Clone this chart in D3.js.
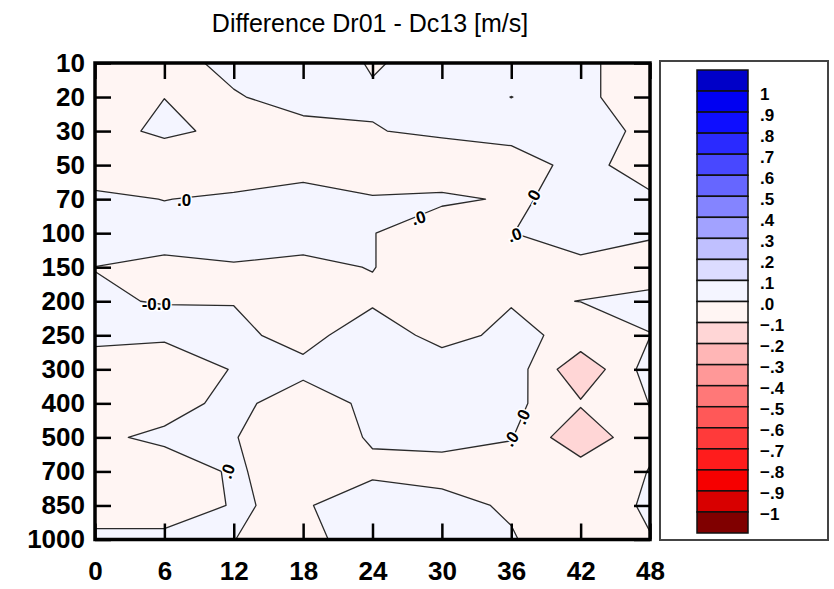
<!DOCTYPE html>
<html><head><meta charset="utf-8">
<title>Difference Dr01 - Dc13</title>
<script src="https://cdn.jsdelivr.net/npm/d3@7"></script>
<style>
  body { margin: 0; background: #ffffff; }
  text { font-family: 'Liberation Sans', Arial, sans-serif; fill: #000; }
  .domain { display: none; }
  .tick line { stroke: #000; stroke-width: 2.5px; }
  .axis text { font-size: 26px; font-weight: bold; }
  .title { font-size: 25px; }
  .barlabel { font-size: 17px; font-weight: bold; }
  .clabel { font-size: 17px; font-weight: bold; stroke: #fff; stroke-width: 3px; paint-order: stroke; }
</style>
</head>
<body>
<svg id="chart" width="834" height="589"></svg>
<script>

// forecast hours (columns) and pressure levels (rows, top to bottom)
const hours = [0, 6, 12, 18, 24, 30, 36, 42, 48];
const levels = [10, 20, 30, 50, 70, 100, 150, 200, 250, 300, 400, 500, 700, 850, 1000];

// difference Dr01 - Dc13 [m/s], one row per level, one value per hour
const diff = [
  [-0.04,  -0.02,   0.0145,  0.035,  -0.005,   0.02,    0.03,    0.02,   -0.049],
  [-0.04,  -0.001, -0.0044,  0.02,    0.0072,  0.025,  -0.0005,  0.02,   -0.049],
  [-0.037,  0.019, -0.023,  -0.0164, -0.0027,  0.01,    0.02,    0.02,   -0.0108],
  [-0.03,  -0.07,  -0.03,   -0.02,   -0.03,   -0.04,   -0.0265,  0.0177, -0.0255],
  [ 0.0105,-0.001,  0.0075,  0.0192,  0.0037,  0.01,   -0.0059,  0.012,   0.009],
  [ 0.02,   0.02,   0.02,    0.02,    0.002,  -0.038,  -0.001,   0.024,   0.01],
  [-0.0003,-0.0113,-0.0035, -0.0113,  0.002,  -0.038,  -0.03,   -0.0135, -0.04],
  [ 0.0021,-0.0011,-0.003,  -0.02,   -0.012,  -0.03,   -0.0054,  0.0005,  0.0206],
  [ 0.02,   0.01,   0.02,   -0.03,    0.05,   -0.0305,  0.023,  -0.026,  -0.002],
  [-0.04,  -0.04,   0.0035,  0.0236,  0.04,    0.054,   0.057,  -0.18,    0.045],
  [-0.04,  -0.0345, 0.025,  -0.05,    0.0225,  0.04,    0.028,  -0.089,   0.002],
  [-0.0157, 0.017,  0.002,  -0.03,    0.005,   0.02,    0.005,  -0.18,   -0.01],
  [-0.04,  -0.0456, 0.01,   -0.04,   -0.01,   -0.0265, -0.045,  -0.042,   0.002],
  [-0.02,  -0.02,   0.0025, -0.0053,  0.03,    0.025,  -0.0107, -0.04,    0.01],
  [ 0.0094, 0.0094, 0.0005, -0.017,   0.03,    0.003,   0.0074, -0.067,  -0.003]
];

// contour levels and shading, lowest band (< -1) first
const thresholds = d3.range(-10, 11).map(d => d / 10);
const bandColors = ["#800000", "#d80000", "#f60000", "#ff1c1c", "#ff3a3a", "#ff5858",
                    "#ff7878", "#ff9898", "#ffb6b6", "#ffd6d6", "#fff5f3", "#f4f5ff",
                    "#dcdcff", "#c0c0ff", "#a2a2ff", "#8484ff", "#6666ff", "#4848ff",
                    "#2a2aff", "#0e0eff", "#0000f2", "#0000c8"];
const barLabels = ["1", ".9", ".8", ".7", ".6", ".5", ".4", ".3", ".2", ".1", ".0",
                   "\u2212.1", "\u2212.2", "\u2212.3", "\u2212.4", "\u2212.5", "\u2212.6",
                   "\u2212.7", "\u2212.8", "\u2212.9", "\u22121"];

// contour labels: hour, level index, text, angle
const lineLabels = [
  {h: 7.7,  r: 4.03,  t: ".0",   a: 0},
  {h: 28.0, r: 4.56,  t: ".0",   a: -17},
  {h: 37.9, r: 3.95,  t: ".0",   a: -62},
  {h: 36.3, r: 5.06,  t: ".0",   a: -20},
  {h: 5.3,  r: 7.1,   t: "-0.0", a: 0},
  {h: 11.5, r: 12.0,  t: ".0",   a: -70},
  {h: 37.0, r: 10.4,  t: ".0",   a: -64},
  {h: 36.0, r: 11.05, t: ".0",   a: -55}
];

const svg = d3.select("#chart");
const plot = {left: 95, right: 650, top: 63, bottom: 539.5};

const x = d3.scaleLinear().domain([0, 48]).range([plot.left, plot.right]);
const y = d3.scaleLinear().domain([0, levels.length - 1]).range([plot.top, plot.bottom]);

svg.append("text")
  .attr("class", "title")
  .attr("x", 370)
  .attr("y", 32)
  .attr("text-anchor", "middle")
  .text("Difference Dr01 - Dc13 [m/s]");

svg.append("clipPath").attr("id", "plotclip")
  .append("rect")
  .attr("x", plot.left).attr("y", plot.top)
  .attr("width", plot.right - plot.left).attr("height", plot.bottom - plot.top);

// contours on the hour x level grid
const nx = hours.length, ny = levels.length;
const values = diff.flat();
const contours = d3.contours().size([nx, ny]).thresholds(thresholds)(values);

const step = hours[1] - hours[0];
const gridToPixel = d3.geoTransform({
  point: function(gx, gy) {
    this.stream.point(x(hours[0] + (gx - 0.5) * step), y(gy - 0.5));
  }
});
const path = d3.geoPath(gridToPixel);

const field = svg.append("g").attr("clip-path", "url(#plotclip)");
field.append("rect")
  .attr("x", plot.left).attr("y", plot.top)
  .attr("width", plot.right - plot.left).attr("height", plot.bottom - plot.top)
  .attr("fill", bandColors[0]);

field.selectAll("path.band").data(contours)
  .join("path")
  .attr("class", "band")
  .attr("d", path)
  .attr("fill", (d, i) => bandColors[i + 1])
  .attr("stroke", "#2a2a2a")
  .attr("stroke-width", 1.3)
  .attr("stroke-linejoin", "round");

field.selectAll("text.clabel").data(lineLabels)
  .join("text")
  .attr("class", "clabel")
  .attr("text-anchor", "middle")
  .attr("dominant-baseline", "central")
  .attr("transform", d => `translate(${x(d.h)},${y(d.r)}) rotate(${d.a})`)
  .text(d => d.t);

// axes with inward ticks on all four sides
const rows = d3.range(levels.length);
svg.append("g").attr("class", "axis")
  .attr("transform", `translate(0,${plot.bottom})`)
  .call(d3.axisBottom(x).tickValues(hours).tickSizeInner(-16).tickSizeOuter(0).tickPadding(22));
svg.append("g").attr("class", "axis")
  .attr("transform", `translate(0,${plot.top})`)
  .call(d3.axisTop(x).tickValues(hours).tickSizeInner(-16).tickSizeOuter(0).tickFormat(""));
svg.append("g").attr("class", "axis")
  .attr("transform", `translate(${plot.left},0)`)
  .call(d3.axisLeft(y).tickValues(rows).tickSizeInner(-16).tickSizeOuter(0).tickPadding(10)
        .tickFormat(i => levels[i]));
svg.append("g").attr("class", "axis")
  .attr("transform", `translate(${plot.right},0)`)
  .call(d3.axisRight(y).tickValues(rows).tickSizeInner(-16).tickSizeOuter(0).tickFormat(""));

svg.append("rect")
  .attr("x", plot.left).attr("y", plot.top)
  .attr("width", plot.right - plot.left).attr("height", plot.bottom - plot.top)
  .attr("fill", "none").attr("stroke", "#000").attr("stroke-width", 3.5);

// colour bar
svg.append("rect")
  .attr("x", 660).attr("y", 61).attr("width", 168).attr("height", 479)
  .attr("fill", "#fff").attr("stroke", "#444").attr("stroke-width", 2);

const barColors = bandColors.slice().reverse();
const bar = d3.scaleBand().domain(d3.range(barColors.length)).range([70, 533]);

svg.selectAll("rect.box").data(barColors)
  .join("rect")
  .attr("class", "box")
  .attr("x", 697).attr("width", 51)
  .attr("y", (d, i) => bar(i))
  .attr("height", bar.bandwidth())
  .attr("fill", d => d)
  .attr("stroke", "#111").attr("stroke-width", 1.5);

svg.selectAll("text.barlabel").data(barLabels)
  .join("text")
  .attr("class", "barlabel")
  .attr("x", 760)
  .attr("y", (d, i) => bar(i) + bar.bandwidth() + 3)
  .attr("dominant-baseline", "central")
  .text(d => d);

</script>
</body>
</html>
